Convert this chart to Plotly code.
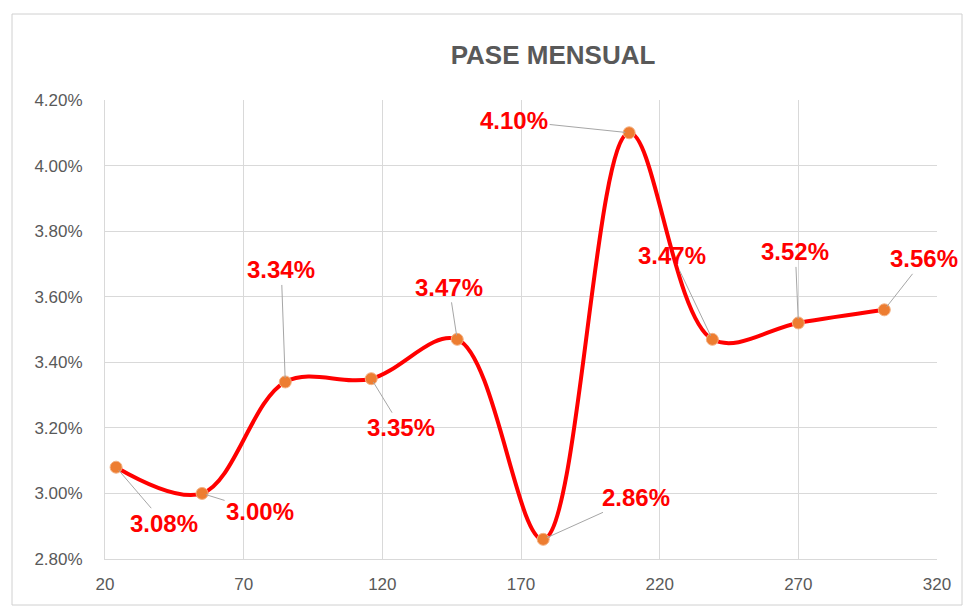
import plotly.graph_objects as go

x_vals = [24, 55, 85, 116, 147, 178, 209, 239, 270, 301]
y_vals = [3.08, 3.00, 3.34, 3.35, 3.47, 2.86, 4.10, 3.47, 3.52, 3.56]
labels = ["3.08%", "3.00%", "3.34%", "3.35%", "3.47%", "2.86%", "4.10%", "3.47%", "3.52%", "3.56%"]
label_dx = [48, 58, -4, 30, -8, 93, -115, -40, -3, 40]
label_dy = [56, 18, -112, 49, -52, -42, -12, -84, -71, -51]
x_ticks = [20, 70, 120, 170, 220, 270, 320]
y_ticks = [2.8, 3.0, 3.2, 3.4, 3.6, 3.8, 4.0, 4.2]
y_tick_text = [f"{v:.2f}%" for v in y_ticks]

fig = go.Figure()
fig.add_trace(go.Scatter(
    x=x_vals, y=y_vals, mode="lines+markers",
    line=dict(color="#FF0000", width=4, shape="spline", smoothing=1.0),
    marker=dict(color="#ED7D31", size=12, line=dict(color="#F4B183", width=1)),
    hoverinfo="skip", showlegend=False,
))

annotations = []
for xv, yv, t, dx, dy in zip(x_vals, y_vals, labels, label_dx, label_dy):
    annotations.append(dict(
        x=xv, y=yv, xref="x", yref="y", text=t, showarrow=True,
        ax=dx, ay=dy, arrowhead=0, arrowwidth=1, arrowcolor="#A6A6A6",
        standoff=4,
        font=dict(family="Liberation Sans, Arial", size=24, color="#FF0000", weight="bold"),
    ))

fig.update_layout(
    width=980, height=612,
    margin=dict(l=105, r=43, t=100, b=53),
    paper_bgcolor="white", plot_bgcolor="white",
    title=dict(text="<b>PASE MENSUAL</b>", x=(553 - 105) / 832, xref="paper", xanchor="center",
               y=1 - 55 / 612, yanchor="middle",
               font=dict(family="Liberation Sans, Arial", size=26, color="#595959")),
    annotations=annotations,
    xaxis=dict(range=[20, 320], tickvals=x_ticks, showgrid=True, gridcolor="#D9D9D9", gridwidth=1,
               showline=True, linecolor="#D9D9D9", linewidth=1, zeroline=False, ticks="",
               ticklabelstandoff=10,
               tickfont=dict(family="Liberation Sans, Arial", size=17, color="#595959")),
    yaxis=dict(range=[2.8, 4.2], tickvals=y_ticks, ticktext=y_tick_text,
               showgrid=True, gridcolor="#D9D9D9", gridwidth=1,
               showline=True, linecolor="#D9D9D9", linewidth=1, zeroline=False, ticks="",
               ticklabelstandoff=18,
               tickfont=dict(family="Liberation Sans, Arial", size=17, color="#595959")),
    shapes=[
        dict(type="rect", xref="paper", yref="paper",
             x0=(12 - 105) / 832, x1=(962 - 105) / 832,
             y0=(559 - 605) / 459, y1=(559 - 14) / 459,
             line=dict(color="#D0D0D0", width=1), layer="below"),
    ],
)

fig.write_html("out.html")
